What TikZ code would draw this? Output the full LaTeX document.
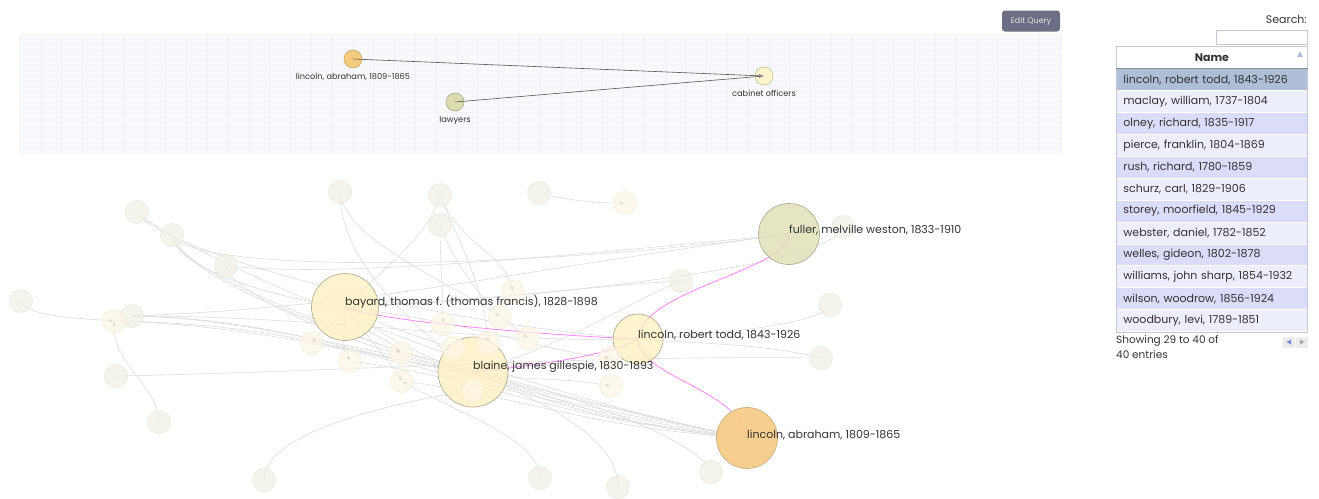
\documentclass[tikz,border=0pt]{standalone}
\usepackage{fontspec}
\setmainfont{Poppins}
\usetikzlibrary{arrows.meta,backgrounds,positioning}

\definecolor{gridbg}{HTML}{F7F9FB}
\definecolor{gridv}{HTML}{EEF1F5}
\definecolor{gridh}{HTML}{F3F5F8}
\definecolor{btnfill}{HTML}{6C6F84}
\definecolor{btntext}{HTML}{E4E5EC}
\definecolor{qabr}{HTML}{F5CB7E}
\definecolor{qabrline}{HTML}{C9A668}
\definecolor{qlaw}{HTML}{DCDCAE}
\definecolor{qlawline}{HTML}{A9A98A}
\definecolor{qcab}{HTML}{FBF4CC}
\definecolor{qcabline}{HTML}{C8C096}
\definecolor{qline}{HTML}{555555}
\definecolor{fgray}{HTML}{F1F0E6}
\definecolor{fgrayline}{HTML}{E8E7DC}
\definecolor{fpeach}{HTML}{FDF6E6}
\definecolor{fpeachline}{HTML}{F4EBD6}
\definecolor{bigfill}{HTML}{FDF0C0}
\definecolor{bigline}{HTML}{B3AE98}
\definecolor{fullfill}{HTML}{DEDEB5}
\definecolor{abrfill}{HTML}{F6CC88}
\definecolor{abrline}{HTML}{C9AE84}
\definecolor{linkgray}{HTML}{DCDCDC}
\definecolor{tipgray}{HTML}{8E8E8E}
\definecolor{hotpink}{HTML}{FF85FF}
\definecolor{rowsel}{HTML}{AEBED6}
\definecolor{rowdk}{HTML}{DADCF8}
\definecolor{rowlt}{HTML}{EDEEFC}
\definecolor{tabline}{HTML}{C6C8D4}
\definecolor{txt}{HTML}{333333}

\tikzset{
  qnode/.style={circle, inner sep=0pt, minimum size=18pt, line width=0.6pt},
  qlbl/.style={inner sep=0pt, text=txt, font=\fontsize{8.2}{10}\selectfont},
  qlink/.style={draw=qline, line width=0.6pt},
  faint/.style={circle, inner sep=0pt, minimum size=23pt, fill=fgray, draw=fgrayline,
    line width=0.5pt, fill opacity=0.75},
  peach/.style={faint, fill=fpeach, draw=fpeachline},
  big/.style={circle, inner sep=0pt, fill=bigfill, draw=bigline, line width=0.7pt,
    fill opacity=0.8},
  biglbl/.style={anchor=west, inner sep=0pt, text=txt, font=\fontsize{11}{13}\selectfont},
  link/.style={draw=linkgray, line width=0.6pt},
  tip/.style={-{Latex[length=5pt,width=3.4pt,color=tipgray]}},
  hot/.style={draw=hotpink, line width=0.8pt},
  row/.style={draw=white, line width=0.8pt, minimum width=191pt, minimum height=21.9pt,
    inner xsep=7pt, text width=177pt, align=left, anchor=north west, text=txt,
    font=\fontsize{11}{13}\selectfont},
}

\begin{document}
\begin{tikzpicture}[x=1pt,y=-1pt]
\useasboundingbox (0,0) rectangle (1319,498);

% query panel
\fill[gridbg] (20,34) rectangle (1062,153);
\foreach \gy in {0,...,22}
  \draw[gridh, line width=0.4pt] (20,{34+5.2*\gy}) -- (1062,{34+5.2*\gy});
\foreach \gx in {0,...,50}
  \draw[gridv, line width=0.6pt] ({20+20.8*\gx},34) -- ({20+20.8*\gx},153);

\node[fill=btnfill, rounded corners=3pt, minimum width=58pt, minimum height=21pt,
  text=btntext, font=\fontsize{8}{9}\selectfont] (editq) at (1031,21) {Edit Query};

\node[qnode, fill=qabr, draw=qabrline] (qlincoln) at (353,59) {};
\node[qnode, fill=qlaw, draw=qlawline] (qlawyers) at (455,102) {};
\node[qnode, fill=qcab, draw=qcabline] (qcabinet) at (764,76) {};
\node[qlbl, below=5pt of qlincoln] (qlincolnlbl) {lincoln, abraham, 1809-1865};
\node[qlbl, below=5pt of qlawyers] (qlawyerslbl) {lawyers};
\node[qlbl, below=5pt of qcabinet] (qcabinetlbl) {cabinet officers};
\draw[qlink, tip] (qlincoln.center) -- (qcabinet.center);
\draw[qlink, tip] (qlawyers.center) -- (qcabinet.center);

% result table
\node[anchor=east, inner sep=0pt, text=txt, font=\fontsize{11}{13}\selectfont] (searchlbl)
  at (1307,19) {Search:};
\node[draw=tabline, line width=0.8pt, minimum width=91pt, minimum height=14pt,
  anchor=north west] (searchbox) at (1216,30) {};
\node[row, fill=white, align=center, font=\bfseries\fontsize{11}{13}\selectfont,
  minimum height=22pt] (namehdr) at (1116,46) {Name};
\fill[rowsel] (1297,57) -- (1303,57) -- (1300,51.5) -- cycle;
\foreach \nm/\rc [count=\i] in {
    {lincoln, robert todd, 1843-1926}/rowsel,
    {maclay, william, 1737-1804}/rowlt,
    {olney, richard, 1835-1917}/rowdk,
    {pierce, franklin, 1804-1869}/rowlt,
    {rush, richard, 1780-1859}/rowdk,
    {schurz, carl, 1829-1906}/rowlt,
    {storey, moorfield, 1845-1929}/rowdk,
    {webster, daniel, 1782-1852}/rowlt,
    {welles, gideon, 1802-1878}/rowdk,
    {williams, john sharp, 1854-1932}/rowlt,
    {wilson, woodrow, 1856-1924}/rowdk,
    {woodbury, levi, 1789-1851}/rowlt}
  \node[row, fill=\rc] (row\i) at (1116,{68.3+21.9*(\i-1)}) {\nm};
\draw[tabline, line width=0.8pt] (namehdr.north west) rectangle (row12.south east);
\draw[black!45, line width=0.8pt] (namehdr.south west) -- (namehdr.south east);
\node[anchor=north west, inner sep=0pt, align=left, text=txt,
  font=\fontsize{10.5}{15.5}\selectfont] (showing) at (1116,335) {Showing 29 to 40 of\\40 entries};
\node[fill=black!8, minimum width=12pt, minimum height=11pt] (prevbtn) at (1289,342) {};
\node[fill=black!8, minimum width=12pt, minimum height=11pt, right=1pt of prevbtn] (nextbtn) {};
\fill[rowsel!70!blue] (1286.5,342) -- (1291,339.5) -- (1291,344.5) -- cycle;
\fill[black!35] (1304.5,342) -- (1300,339.5) -- (1300,344.5) -- cycle;

% network
\node[big] (bayard) at (345,307) [minimum size=67pt] {};
\node[big] (blaine) at (473,372) [minimum size=70pt] {};
\node[big] (rtodd) at (638,339) [minimum size=50pt] {};
\node[big, fill=fullfill] (fuller) at (789,234) [minimum size=61pt] {};
\node[big, fill=abrfill, draw=abrline, fill opacity=0.95] (abraham) at (747,438) [minimum size=61pt] {};

\node[faint] (g1) at (137,212) {};
\node[faint] (g2) at (172,235) {};
\node[faint] (g3) at (226,266) {};
\node[faint] (g4) at (21,301) {};
\node[faint] (g5) at (132,316) {};
\node[faint] (g6) at (116,376) {};
\node[faint] (g7) at (159,422) {};
\node[faint] (g8) at (264,480) {};
\node[faint] (g9) at (340,192) {};
\node[faint] (g10) at (440,195) {};
\node[faint] (g11) at (440,225) {};
\node[faint] (g12) at (539,193) {};
\node[faint] (g13) at (681,281) {};
\node[faint] (g14) at (843,227) {};
\node[faint] (g15) at (830,305) {};
\node[faint] (g16) at (821,358) {};
\node[faint] (g17) at (540,478) {};
\node[faint] (g18) at (618,487) {};
\node[faint] (g19) at (711,472) {};

\node[peach] (p1) at (114,321) {};
\node[peach] (p2) at (312,343) {};
\node[peach] (p3) at (350,361) {};
\node[peach] (p4) at (401,353) {};
\node[peach] (p5) at (402,381) {};
\node[peach] (p6) at (443,324) {};
\node[peach] (p7) at (513,292) {};
\node[peach] (p8) at (500,317) {};
\node[peach] (p9) at (528,338) {};
\node[peach] (p10) at (611,386) {};
\node[peach] (p11) at (625,203) {};
\node[peach] (p12) at (453,348) {};
\node[peach] (p13) at (488,343) {};
\node[peach] (p14) at (473,390) {};
\node[peach] (p15) at (610,358) {};

\begin{scope}[on background layer]
  \draw[link, tip] (g4.center) .. controls +(5,15) and +(-40,-3) .. (p1.center);
  \draw[link, tip] (g7.center) .. controls +(0,-35) and +(0,45) .. (p1.center);
  \draw[link] (g5.center) .. controls +(150,0) and +(-150,-30) .. (abraham.center);
  \draw[link] (g5.center) .. controls +(200,0) and +(-150,5) .. (rtodd.center);
  \draw[link] (g5.center) .. controls +(150,2) and +(-100,-10) .. (blaine.center);
  \draw[link] (g5.center) .. controls +(250,-10) and +(-300,40) .. (fuller.center);
  \draw[link] (p1.center) .. controls +(200,5) and +(-200,-40) .. (abraham.center);
  \draw[link] (p1.center) .. controls +(180,3) and +(-120,-15) .. (blaine.center);
  \draw[link] (g6.center) .. controls +(250,-5) and +(-250,-3) .. (g16.center);
  \draw[link, tip] (g8.center) .. controls +(0,-40) and +(-120,20) .. (p14.center);
  \draw[link] (g1.center) .. controls +(10,30) and +(-250,-20) .. (rtodd.center);
  \draw[link] (g1.center) .. controls +(20,25) and +(-300,-60) .. (abraham.center);
  \draw[link] (g2.center) .. controls +(0,30) and +(-80,-10) .. (bayard.center);
  \draw[link] (g2.center) .. controls +(20,40) and +(-250,35) .. (fuller.center);
  \draw[link] (g2.center) .. controls +(10,40) and +(-150,-40) .. (blaine.center);
  \draw[link, tip] (g2.center) .. controls +(10,40) and +(-60,-25) .. (p4.center);
  \draw[link] (g3.center) .. controls +(0,20) and +(-150,-30) .. (blaine.center);
  \draw[link] (g3.center) .. controls +(100,10) and +(-300,30) .. (fuller.center);
  \draw[link, tip] (g9.center) .. controls +(5,50) and +(-40,-30) .. (p8.center);
  \draw[link] (g9.center) .. controls +(0,60) and +(-80,-60) .. (blaine.center);
  \draw[link] (g10.center) .. controls +(-10,40) and +(40,-40) .. (bayard.center);
  \draw[link, tip] (g10.center) .. controls +(20,50) and +(-10,-40) .. (p7.center);
  \draw[link, tip] (g10.center) .. controls +(20,50) and +(-5,-60) .. (p13.center);
  \draw[link, tip] (g11.center) .. controls +(0,40) and +(0,-40) .. (p6.center);
  \draw[link, tip] (g11.center) .. controls +(20,50) and +(-40,-30) .. (p9.center);
  \draw[link, tip] (g12.center) .. controls +(20,5) and +(-40,0) .. (p11.center);
  \draw[link] (g13.center) .. controls +(-100,5) and +(150,-5) .. (bayard.center);
  \draw[link] (g13.center) .. controls +(-50,20) and +(100,-30) .. (blaine.center);
  \draw[link] (g14.center) .. controls +(-10,40) and +(200,-10) .. (bayard.center);
  \draw[link] (g15.center) .. controls +(-10,20) and +(80,-5) .. (rtodd.center);
  \draw[link] (g16.center) .. controls +(-60,-15) and +(60,5) .. (rtodd.center);
  \draw[link, tip] (g17.center) .. controls +(0,-40) and +(50,30) .. (p5.center);
  \draw[link] (g18.center) .. controls +(0,-50) and +(70,30) .. (blaine.center);
  \draw[link] (g19.center) .. controls +(-10,-30) and +(100,20) .. (blaine.center);
  \draw[link] (bayard.center) .. controls +(100,80) and +(-150,-30) .. (abraham.center);
  \draw[link, tip] (bayard.center) .. controls +(0,30) and +(-10,-20) .. (p3.center);
  \draw[link, tip] (bayard.center) .. controls +(-10,20) and +(10,-15) .. (p2.center);
  \draw[link, tip] (bayard.center) .. controls +(20,30) and +(-20,-20) .. (p4.center);
  \draw[link, tip] (bayard.center) .. controls +(30,40) and +(-20,-30) .. (p5.center);
  \draw[link, tip] (bayard.center) .. controls +(40,20) and +(-30,-10) .. (p12.center);
  \draw[link, tip] (bayard.center) .. controls +(150,20) and +(-80,-10) .. (p15.center);
  \draw[link] (blaine.center) .. controls +(100,40) and +(-150,-20) .. (abraham.center);
  \draw[link, tip] (blaine.center) .. controls +(60,10) and +(-60,-10) .. (p10.center);
  \draw[link] (p2.center) .. controls +(150,30) and +(-200,-30) .. (abraham.center);
  \draw[link] (p3.center) .. controls +(150,20) and +(-200,-20) .. (abraham.center);
  \draw[link] (p4.center) .. controls +(120,20) and +(-180,-15) .. (abraham.center);
  \draw[link] (p5.center) .. controls +(120,15) and +(-160,-10) .. (abraham.center);
  % highlighted path
  \draw[hot] (bayard.center) .. controls +(35,15) and +(-78,-3) .. (rtodd.center);
  \draw[hot] (blaine.center) .. controls +(67,-7) and +(-28,16) .. (rtodd.center);
  \draw[hot] (fuller.center) .. controls +(1,36) and +(2,-49) .. (rtodd.center);
  \draw[hot] (rtodd.center) .. controls +(-2,36) and +(-7,-48) .. (abraham.center);
\end{scope}

\node[biglbl] (bayardlbl) at (345,302) {bayard, thomas f. (thomas francis), 1828-1898};
\node[biglbl] (blainelbl) at (473,367) {blaine, james gillespie, 1830-1893};
\node[biglbl] (rtoddlbl) at (638,335) {lincoln, robert todd, 1843-1926};
\node[biglbl] (fullerlbl) at (789,230) {fuller, melville weston, 1833-1910};
\node[biglbl] (abrahamlbl) at (747,435) {lincoln, abraham, 1809-1865};
\end{tikzpicture}
\end{document}
